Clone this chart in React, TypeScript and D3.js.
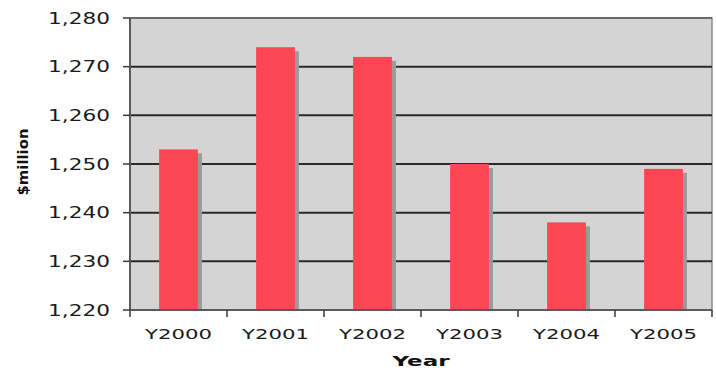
import React from "react";
import * as d3 from "d3";

// Annual spend by year ($ million)
const years: string[] = ["Y2000", "Y2001", "Y2002", "Y2003", "Y2004", "Y2005"];
const spend: number[] = [1253, 1274, 1272, 1250, 1238, 1249];
const yTicks: number[] = [1220, 1230, 1240, 1250, 1260, 1270, 1280];

const W = 716;
const H = 370;
const plot = { left: 130, right: 712, top: 18, bottom: 310 };
const FONT = "'DejaVu Sans', Verdana, sans-serif";

export default function App() {
  const x = d3
    .scaleBand<string>()
    .domain(years)
    .range([plot.left, plot.right])
    .paddingInner(0.6)
    .paddingOuter(0.3);
  const y = d3.scaleLinear().domain([1220, 1280]).range([plot.bottom, plot.top]);
  const fmt = d3.format(",");
  const band = (plot.right - plot.left) / years.length;
  const boundaries = d3.range(years.length + 1).map((i) => plot.left + i * band);
  const shadow = 4;

  return (
    <svg
      width={W}
      height={H}
      style={{ position: "absolute", left: 0, top: 0, background: "#fff" }}
    >
      {/* plot background */}
      <rect
        x={plot.left}
        y={plot.top}
        width={plot.right - plot.left}
        height={plot.bottom - plot.top}
        fill="#d4d4d4"
        stroke="#8a8a8a"
        strokeWidth={1.5}
      />
      {/* gridlines */}
      {yTicks.slice(1, -1).map((t) => (
        <line
          key={"g" + t}
          x1={plot.left}
          x2={plot.right}
          y1={y(t)}
          y2={y(t)}
          stroke="#2a2a2a"
          strokeWidth={2}
        />
      ))}
      <line x1={plot.left} x2={plot.right} y1={plot.top} y2={plot.top} stroke="#6a6a6a" strokeWidth={2} />
      {/* bars with drop shadow */}
      {years.map((yr, i) => {
        const bx = x(yr)!;
        const bw = x.bandwidth();
        const by = y(spend[i]);
        return (
          <g key={yr}>
            <rect
              x={bx + shadow}
              y={by + shadow}
              width={bw}
              height={plot.bottom - by - shadow}
              fill="#9a9a9a"
            />
            <rect x={bx} y={by} width={bw} height={plot.bottom - by} fill="#fd4654" />
          </g>
        );
      })}
      {/* axes */}
      <line x1={plot.left} x2={plot.left} y1={plot.top} y2={plot.bottom} stroke="#5a5a5a" strokeWidth={2} />
      <line x1={plot.left} x2={plot.right} y1={plot.bottom} y2={plot.bottom} stroke="#5a5a5a" strokeWidth={2} />
      {yTicks.map((t) => (
        <g key={"t" + t}>
          <line x1={plot.left - 7} x2={plot.left} y1={y(t)} y2={y(t)} stroke="#3a3a3a" strokeWidth={1.5} />
          <text
            x={110}
            y={y(t) + 5.5}
            textAnchor="end"
            fontFamily={FONT}
            fontSize={15}
            fill="#1a1a1a"
            textLength={62}
            lengthAdjust="spacingAndGlyphs"
          >
            {fmt(t)}
          </text>
        </g>
      ))}
      {boundaries.map((bx, i) => (
        <line key={"xt" + i} x1={bx} x2={bx} y1={plot.bottom} y2={plot.bottom + 7} stroke="#3a3a3a" strokeWidth={1.5} />
      ))}
      {years.map((yr) => (
        <text
          key={"l" + yr}
          x={x(yr)! + x.bandwidth() / 2}
          y={339}
          textAnchor="middle"
          fontFamily={FONT}
          fontSize={14}
          fill="#1a1a1a"
          textLength={67}
          lengthAdjust="spacingAndGlyphs"
        >
          {yr}
        </text>
      ))}
      {/* axis titles */}
      <text
        x={(plot.left + plot.right) / 2}
        y={366}
        textAnchor="middle"
        fontFamily={FONT}
        fontSize={14}
        fontWeight="bold"
        fill="#111"
        textLength={57}
        lengthAdjust="spacingAndGlyphs"
      >
        Year
      </text>
      <text
        transform={`translate(28, ${(plot.top + plot.bottom) / 2 - 2}) rotate(-90)`}
        textAnchor="middle"
        fontFamily={FONT}
        fontSize={14}
        fontWeight="bold"
        fill="#111"
        textLength={67}
        lengthAdjust="spacingAndGlyphs"
      >
        $million
      </text>
    </svg>
  );
}
